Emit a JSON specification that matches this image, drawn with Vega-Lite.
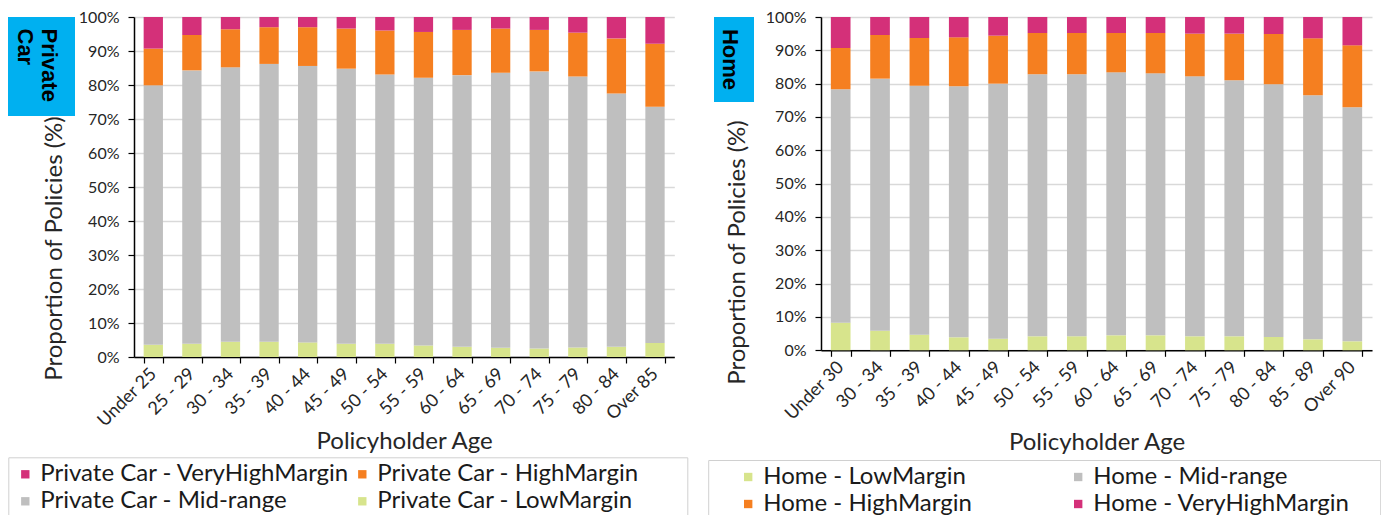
{
  "$schema": "https://vega.github.io/schema/vega-lite/v6.json",
  "padding": {"left": 7, "top": 9, "right": 0, "bottom": 0},
  "background": "white",
  "spacing": 0,
  "bounds": "flush",
  "config": {
    "view": {"stroke": null},
    "font": "Lato",
    "axis": {
      "labelFont": "Lato", "titleFont": "Lato", "labelFontSize": 16, "titleFontSize": 24,
      "titleFontWeight": "normal", "labelColor": "#262626", "titleColor": "#262626",
      "domainColor": "#000000", "domainWidth": 1.5, "tickColor": "#000000", "tickWidth": 1.2, "tickSize": 6
    },
    "legend": {
      "orient": "none", "direction": "horizontal", "columns": 2, "symbolType": "square", "symbolSize": 70, "symbolStrokeWidth": 0,
      "labelFont": "Lato", "labelFontSize": 24, "labelColor": "#1a1a1a", "labelOffset": 3, "labelLimit": 500,
      "rowPadding": 3, "padding": 5, "strokeColor": "#d0d0d0", "gridAlign": "each"
    }
  },
  "resolve": {"scale": {"x": "independent", "y": "independent", "color": "independent"}, "legend": {"color": "independent"}},
  "datasets": {
    "car": [
      {"age":"Under 25","s":"Private Car - LowMargin","lvl":1,"pct":3.6},{"age":"Under 25","s":"Private Car - Mid-range","lvl":2,"pct":76.3},{"age":"Under 25","s":"Private Car - HighMargin","lvl":3,"pct":10.8},{"age":"Under 25","s":"Private Car - VeryHighMargin","lvl":4,"pct":9.3},
      {"age":"25 - 29","s":"Private Car - LowMargin","lvl":1,"pct":3.9},{"age":"25 - 29","s":"Private Car - Mid-range","lvl":2,"pct":80.4},{"age":"25 - 29","s":"Private Car - HighMargin","lvl":3,"pct":10.4},{"age":"25 - 29","s":"Private Car - VeryHighMargin","lvl":4,"pct":5.3},
      {"age":"30 - 34","s":"Private Car - LowMargin","lvl":1,"pct":4.5},{"age":"30 - 34","s":"Private Car - Mid-range","lvl":2,"pct":80.7},{"age":"30 - 34","s":"Private Car - HighMargin","lvl":3,"pct":11.2},{"age":"30 - 34","s":"Private Car - VeryHighMargin","lvl":4,"pct":3.6},
      {"age":"35 - 39","s":"Private Car - LowMargin","lvl":1,"pct":4.5},{"age":"35 - 39","s":"Private Car - Mid-range","lvl":2,"pct":81.7},{"age":"35 - 39","s":"Private Car - HighMargin","lvl":3,"pct":10.8},{"age":"35 - 39","s":"Private Car - VeryHighMargin","lvl":4,"pct":3.0},
      {"age":"40 - 44","s":"Private Car - LowMargin","lvl":1,"pct":4.3},{"age":"40 - 44","s":"Private Car - Mid-range","lvl":2,"pct":81.3},{"age":"40 - 44","s":"Private Car - HighMargin","lvl":3,"pct":11.4},{"age":"40 - 44","s":"Private Car - VeryHighMargin","lvl":4,"pct":3.0},
      {"age":"45 - 49","s":"Private Car - LowMargin","lvl":1,"pct":3.9},{"age":"45 - 49","s":"Private Car - Mid-range","lvl":2,"pct":80.9},{"age":"45 - 49","s":"Private Car - HighMargin","lvl":3,"pct":11.8},{"age":"45 - 49","s":"Private Car - VeryHighMargin","lvl":4,"pct":3.4},
      {"age":"50 - 54","s":"Private Car - LowMargin","lvl":1,"pct":3.9},{"age":"50 - 54","s":"Private Car - Mid-range","lvl":2,"pct":79.2},{"age":"50 - 54","s":"Private Car - HighMargin","lvl":3,"pct":12.9},{"age":"50 - 54","s":"Private Car - VeryHighMargin","lvl":4,"pct":4.0},
      {"age":"55 - 59","s":"Private Car - LowMargin","lvl":1,"pct":3.4},{"age":"55 - 59","s":"Private Car - Mid-range","lvl":2,"pct":78.7},{"age":"55 - 59","s":"Private Car - HighMargin","lvl":3,"pct":13.5},{"age":"55 - 59","s":"Private Car - VeryHighMargin","lvl":4,"pct":4.4},
      {"age":"60 - 64","s":"Private Car - LowMargin","lvl":1,"pct":3.0},{"age":"60 - 64","s":"Private Car - Mid-range","lvl":2,"pct":79.9},{"age":"60 - 64","s":"Private Car - HighMargin","lvl":3,"pct":13.3},{"age":"60 - 64","s":"Private Car - VeryHighMargin","lvl":4,"pct":3.8},
      {"age":"65 - 69","s":"Private Car - LowMargin","lvl":1,"pct":2.7},{"age":"65 - 69","s":"Private Car - Mid-range","lvl":2,"pct":80.9},{"age":"65 - 69","s":"Private Car - HighMargin","lvl":3,"pct":13.0},{"age":"65 - 69","s":"Private Car - VeryHighMargin","lvl":4,"pct":3.4},
      {"age":"70 - 74","s":"Private Car - LowMargin","lvl":1,"pct":2.5},{"age":"70 - 74","s":"Private Car - Mid-range","lvl":2,"pct":81.5},{"age":"70 - 74","s":"Private Car - HighMargin","lvl":3,"pct":12.2},{"age":"70 - 74","s":"Private Car - VeryHighMargin","lvl":4,"pct":3.8},
      {"age":"75 - 79","s":"Private Car - LowMargin","lvl":1,"pct":2.8},{"age":"75 - 79","s":"Private Car - Mid-range","lvl":2,"pct":79.7},{"age":"75 - 79","s":"Private Car - HighMargin","lvl":3,"pct":12.9},{"age":"75 - 79","s":"Private Car - VeryHighMargin","lvl":4,"pct":4.6},
      {"age":"80 - 84","s":"Private Car - LowMargin","lvl":1,"pct":3.0},{"age":"80 - 84","s":"Private Car - Mid-range","lvl":2,"pct":74.5},{"age":"80 - 84","s":"Private Car - HighMargin","lvl":3,"pct":16.2},{"age":"80 - 84","s":"Private Car - VeryHighMargin","lvl":4,"pct":6.3},
      {"age":"Over 85","s":"Private Car - LowMargin","lvl":1,"pct":4.1},{"age":"Over 85","s":"Private Car - Mid-range","lvl":2,"pct":69.5},{"age":"Over 85","s":"Private Car - HighMargin","lvl":3,"pct":18.5},{"age":"Over 85","s":"Private Car - VeryHighMargin","lvl":4,"pct":7.9}
    ],
    "home": [
      {"age":"Under 30","s":"Home - LowMargin","lvl":1,"pct":8.3},{"age":"Under 30","s":"Home - Mid-range","lvl":2,"pct":70.0},{"age":"Under 30","s":"Home - HighMargin","lvl":3,"pct":12.4},{"age":"Under 30","s":"Home - VeryHighMargin","lvl":4,"pct":9.3},
      {"age":"30 - 34","s":"Home - LowMargin","lvl":1,"pct":5.9},{"age":"30 - 34","s":"Home - Mid-range","lvl":2,"pct":75.6},{"age":"30 - 34","s":"Home - HighMargin","lvl":3,"pct":13.1},{"age":"30 - 34","s":"Home - VeryHighMargin","lvl":4,"pct":5.4},
      {"age":"35 - 39","s":"Home - LowMargin","lvl":1,"pct":4.7},{"age":"35 - 39","s":"Home - Mid-range","lvl":2,"pct":74.7},{"age":"35 - 39","s":"Home - HighMargin","lvl":3,"pct":14.3},{"age":"35 - 39","s":"Home - VeryHighMargin","lvl":4,"pct":6.3},
      {"age":"40 - 44","s":"Home - LowMargin","lvl":1,"pct":3.9},{"age":"40 - 44","s":"Home - Mid-range","lvl":2,"pct":75.3},{"age":"40 - 44","s":"Home - HighMargin","lvl":3,"pct":14.7},{"age":"40 - 44","s":"Home - VeryHighMargin","lvl":4,"pct":6.1},
      {"age":"45 - 49","s":"Home - LowMargin","lvl":1,"pct":3.5},{"age":"45 - 49","s":"Home - Mid-range","lvl":2,"pct":76.5},{"age":"45 - 49","s":"Home - HighMargin","lvl":3,"pct":14.4},{"age":"45 - 49","s":"Home - VeryHighMargin","lvl":4,"pct":5.6},
      {"age":"50 - 54","s":"Home - LowMargin","lvl":1,"pct":4.2},{"age":"50 - 54","s":"Home - Mid-range","lvl":2,"pct":78.6},{"age":"50 - 54","s":"Home - HighMargin","lvl":3,"pct":12.4},{"age":"50 - 54","s":"Home - VeryHighMargin","lvl":4,"pct":4.8},
      {"age":"55 - 59","s":"Home - LowMargin","lvl":1,"pct":4.2},{"age":"55 - 59","s":"Home - Mid-range","lvl":2,"pct":78.6},{"age":"55 - 59","s":"Home - HighMargin","lvl":3,"pct":12.4},{"age":"55 - 59","s":"Home - VeryHighMargin","lvl":4,"pct":4.8},
      {"age":"60 - 64","s":"Home - LowMargin","lvl":1,"pct":4.5},{"age":"60 - 64","s":"Home - Mid-range","lvl":2,"pct":78.9},{"age":"60 - 64","s":"Home - HighMargin","lvl":3,"pct":11.8},{"age":"60 - 64","s":"Home - VeryHighMargin","lvl":4,"pct":4.8},
      {"age":"65 - 69","s":"Home - LowMargin","lvl":1,"pct":4.5},{"age":"65 - 69","s":"Home - Mid-range","lvl":2,"pct":78.6},{"age":"65 - 69","s":"Home - HighMargin","lvl":3,"pct":12.1},{"age":"65 - 69","s":"Home - VeryHighMargin","lvl":4,"pct":4.8},
      {"age":"70 - 74","s":"Home - LowMargin","lvl":1,"pct":4.2},{"age":"70 - 74","s":"Home - Mid-range","lvl":2,"pct":78.0},{"age":"70 - 74","s":"Home - HighMargin","lvl":3,"pct":12.8},{"age":"70 - 74","s":"Home - VeryHighMargin","lvl":4,"pct":5.0},
      {"age":"75 - 79","s":"Home - LowMargin","lvl":1,"pct":4.2},{"age":"75 - 79","s":"Home - Mid-range","lvl":2,"pct":76.8},{"age":"75 - 79","s":"Home - HighMargin","lvl":3,"pct":14.0},{"age":"75 - 79","s":"Home - VeryHighMargin","lvl":4,"pct":5.0},
      {"age":"80 - 84","s":"Home - LowMargin","lvl":1,"pct":4.0},{"age":"80 - 84","s":"Home - Mid-range","lvl":2,"pct":75.8},{"age":"80 - 84","s":"Home - HighMargin","lvl":3,"pct":15.1},{"age":"80 - 84","s":"Home - VeryHighMargin","lvl":4,"pct":5.1},
      {"age":"85 - 89","s":"Home - LowMargin","lvl":1,"pct":3.3},{"age":"85 - 89","s":"Home - Mid-range","lvl":2,"pct":73.2},{"age":"85 - 89","s":"Home - HighMargin","lvl":3,"pct":17.1},{"age":"85 - 89","s":"Home - VeryHighMargin","lvl":4,"pct":6.4},
      {"age":"Over 90","s":"Home - LowMargin","lvl":1,"pct":2.7},{"age":"Over 90","s":"Home - Mid-range","lvl":2,"pct":70.2},{"age":"Over 90","s":"Home - HighMargin","lvl":3,"pct":18.6},{"age":"Over 90","s":"Home - VeryHighMargin","lvl":4,"pct":8.5}
    ],
    "boxL": [{"label": "Private\nCar"}],
    "boxR": [{"label": "Home"}],
    "none": []
  },
  "hconcat": [
    {
      "width": 67, "height": 99,
      "view": {"fill": "#00B0F0", "stroke": null},
      "data": {"name": "boxL"},
      "mark": {"type": "text", "angle": 90, "align": "left", "baseline": "middle", "dx": -38, "dy": -7, "font": "Liberation Sans", "fontWeight": "bold", "fontSize": 22, "lineHeight": 24, "lineBreak": "\n", "color": "#000000"},
      "encoding": {"text": {"field": "label", "type": "nominal"}}
    },
    {"width": 58.7, "height": 1, "data": {"name": "none"}, "mark": "point", "encoding": {}},
    {
      "width": 540.3, "height": 340,
      "data": {"name": "car"},
      "mark": {"type": "bar"},
      "encoding": {
        "x": {"field": "age", "type": "nominal", "sort": null, "title": "Policyholder Age",
          "scale": {"paddingInner": 0.5, "paddingOuter": 0.25},
          "axis": {"tickBand": "extent", "labelAngle": -45, "labelAlign": "right", "labelBaseline": "middle", "labelFontSize": 18, "labelPadding": 8, "grid": false, "titleY": 84, "titleBaseline": "middle"}},
        "y": {"field": "pct", "type": "quantitative", "stack": "zero", "title": "Proportion of Policies (%)",
          "scale": {"domain": [0, 100], "nice": false},
          "axis": {"values": [0,10,20,30,40,50,60,70,80,90,100], "labelExpr": "datum.value + '%'", "labelPadding": 9, "grid": true, "gridColor": "#d9d9d9", "gridWidth": 1.5, "titleX": -79.7, "titleY": 231, "titleBaseline": "middle", "titleAlign": "center"}},
        "color": {"field": "s", "type": "nominal",
          "scale": {"domain": ["Private Car - VeryHighMargin", "Private Car - HighMargin", "Private Car - Mid-range", "Private Car - LowMargin"], "range": ["#D43079", "#F57F20", "#BFBFBF", "#D7E48C"]},
          "legend": {"title": null, "legendX": -125.7, "legendY": 440.3, "columnPadding": 0,
            "labelExpr": "datum.label == 'Private Car - HighMargin' || datum.label == 'Private Car - LowMargin' ? datum.label + '\u00a0\u00a0\u00a0\u00a0\u00a0\u00a0\u00a0\u200b' : datum.label"}},
        "order": {"field": "lvl", "type": "quantitative"}
      }
    },
    {"width": 39, "height": 1, "data": {"name": "none"}, "mark": "point", "encoding": {}},
    {
      "width": 40, "height": 85,
      "view": {"fill": "#00B0F0", "stroke": null},
      "data": {"name": "boxR"},
      "mark": {"type": "text", "angle": 90, "align": "center", "baseline": "middle", "dy": 4, "font": "Liberation Sans", "fontWeight": "bold", "fontSize": 22, "color": "#000000"},
      "encoding": {"text": {"field": "label", "type": "nominal"}}
    },
    {"width": 67, "height": 1, "data": {"name": "none"}, "mark": "point", "encoding": {}},
    {
      "width": 551, "height": 333.3,
      "data": {"name": "home"},
      "mark": {"type": "bar"},
      "encoding": {
        "x": {"field": "age", "type": "nominal", "sort": null, "title": "Policyholder Age",
          "scale": {"paddingInner": 0.5, "paddingOuter": 0.25},
          "axis": {"tickBand": "extent", "labelAngle": -45, "labelAlign": "right", "labelBaseline": "middle", "labelFontSize": 18, "labelPadding": 8, "grid": false, "titleY": 92, "titleBaseline": "middle"}},
        "y": {"field": "pct", "type": "quantitative", "stack": "zero", "title": "Proportion of Policies (%)",
          "scale": {"domain": [0, 100], "nice": false},
          "axis": {"values": [0,10,20,30,40,50,60,70,80,90,100], "labelExpr": "datum.value + '%'", "labelPadding": 9, "grid": true, "gridColor": "#d9d9d9", "gridWidth": 1.5, "titleX": -84, "titleY": 235, "titleBaseline": "middle", "titleAlign": "center"}},
        "color": {"field": "s", "type": "nominal",
          "scale": {"domain": ["Home - LowMargin", "Home - Mid-range", "Home - HighMargin", "Home - VeryHighMargin"], "range": ["#D7E48C", "#BFBFBF", "#F57F20", "#D43079"]},
          "legend": {"title": "\u200b", "titleOrient": "left", "titlePadding": 23, "titleFontSize": 2, "legendX": -112.8, "legendY": 443, "columnPadding": 94,
            "labelExpr": "datum.label == 'Home - Mid-range' || datum.label == 'Home - VeryHighMargin' ? datum.label + '\u00a0\u00a0\u00a0\u00a0\u200b' : datum.label"}},
        "order": {"field": "lvl", "type": "quantitative"}
      }
    }
  ]
}
